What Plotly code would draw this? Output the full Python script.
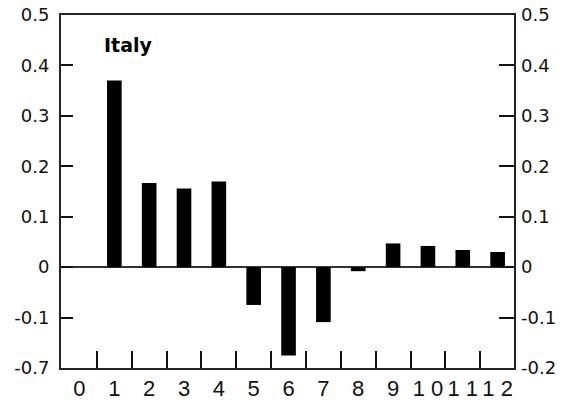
import plotly.graph_objects as go

categories = list(range(0, 13))
values = [None, 0.37, 0.167, 0.156, 0.17, -0.075, -0.175, -0.109, -0.008, 0.047, 0.042, 0.034, 0.03]
x_tick_labels = ["0", "1", "2", "3", "4", "5", "6", "7", "8", "9",
                 "1\u00a00", "1\u00a01", "1\u00a02"]
y_tick_vals = [0.5, 0.4, 0.3, 0.2, 0.1, 0, -0.1, -0.2]
y_left_labels = ["0.5", "0.4", "0.3", "0.2", "0.1", "0", "-0.1", "-0.7"]
y_right_labels = ["0.5", "0.4", "0.3", "0.2", "0.1", "0", "-0.1", "-0.2"]
country = "Italy"

yrange = [-0.2, 0.5]
xrange = [-0.53, 12.47]

fig = go.Figure()
fig.add_trace(go.Bar(x=categories, y=values, marker=dict(color="black", line=dict(width=0)),
                     width=0.42, showlegend=False))
# invisible trace for right axis
fig.add_trace(go.Scatter(x=[categories[0]], y=[0], yaxis="y2", mode="markers",
                         marker=dict(opacity=0), showlegend=False, hoverinfo="skip"))

fig.update_layout(
    width=576, height=411,
    margin=dict(l=61, r=62, t=15, b=43),
    plot_bgcolor="white", paper_bgcolor="white",
    xaxis=dict(range=xrange, tickvals=categories, ticktext=x_tick_labels, ticks="",
               tickangle=0, automargin=False,
               showline=True, linecolor="#222", linewidth=2, mirror=True,
               showgrid=False, zeroline=False,
               tickfont=dict(family="Liberation Sans", size=22, color="#111"),
               minor=dict(tickvals=[c + 0.5 for c in categories[:-1]], ticks="inside",
                          ticklen=17, tickwidth=2, tickcolor="#111", showgrid=False)),
    yaxis=dict(range=yrange, tickvals=y_tick_vals, ticktext=y_left_labels,
               ticks="inside", ticklen=12, tickwidth=2, tickcolor="#111", automargin=False,
               showline=True, linecolor="#222", linewidth=2, mirror=True,
               showgrid=False, zeroline=True, zerolinecolor="#333", zerolinewidth=2,
               ticklabelstandoff=6,
               tickfont=dict(family="DejaVu Sans", size=18, color="#111")),
    yaxis2=dict(range=yrange, tickvals=y_tick_vals, ticktext=y_right_labels, automargin=False,
                overlaying="y", side="right", ticks="inside", ticklen=15, tickwidth=2,
                tickcolor="#111", showline=False, showgrid=False, zeroline=False,
                ticklabelstandoff=6,
                tickfont=dict(family="DejaVu Sans", size=18, color="#111")),
    annotations=[dict(text="<b>" + country + "</b>", xref="paper", yref="paper",
                      x=0.09, y=0.915, xanchor="left", yanchor="middle", showarrow=False,
                      font=dict(family="DejaVu Sans", size=19, color="black"))],
)

fig.write_html("out.html")
